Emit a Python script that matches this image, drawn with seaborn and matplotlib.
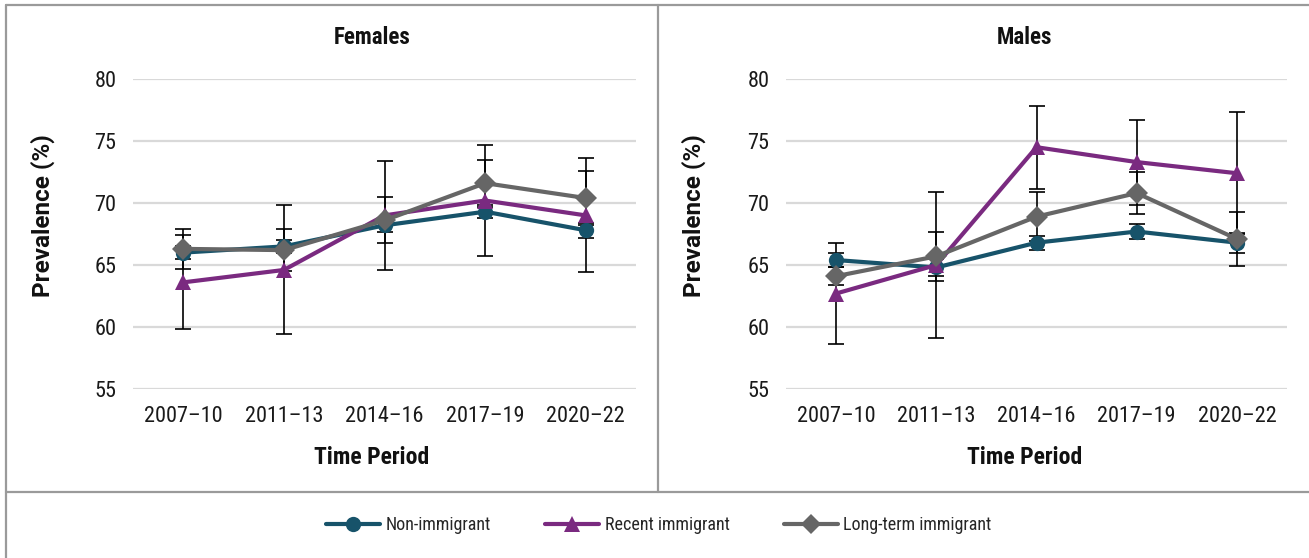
import matplotlib
matplotlib.use("Agg")
import matplotlib.pyplot as plt
from matplotlib.lines import Line2D
import numpy as np
import pandas as pd
import seaborn as sns

# ---- data -------------------------------------------------------------
periods = ["2007\u201310", "2011\u201313", "2014\u201316", "2017\u201319", "2020\u201322"]
groups = ["Non-immigrant", "Recent immigrant", "Long-term immigrant"]

female_non = [66.0, 66.5, 68.2, 69.3, 67.8]
female_recent = [63.6, 64.6, 69.0, 70.2, 69.0]
female_long = [66.3, 66.2, 68.6, 71.6, 70.4]

female_non_err = [0.5, 0.5, 0.5, 0.5, 0.6]
female_recent_err = [3.8, 5.2, 4.4, 4.45, 4.6]
female_long_err = [1.6, 1.7, 1.85, 1.9, 2.2]

male_non = [65.4, 64.8, 66.8, 67.7, 66.8]
male_recent = [62.7, 65.0, 74.5, 73.3, 72.4]
male_long = [64.1, 65.7, 68.9, 70.8, 67.1]

male_non_err = [0.6, 0.7, 0.55, 0.63, 0.8]
male_recent_err = [4.05, 5.85, 3.35, 3.43, 4.9]
male_long_err = [0.7, 1.95, 1.95, 1.7, 2.16]

y_ticks = [55, 60, 65, 70, 75, 80]

# ---- style ------------------------------------------------------------
sns.set_theme(style="white")
plt.rcParams["font.family"] = ["Roboto Condensed", "Liberation Sans Narrow", "Roboto", "DejaVu Sans"]

palette = {"Non-immigrant": "#17536a", "Recent immigrant": "#7a2a80", "Long-term immigrant": "#666666"}
markers = {"Non-immigrant": "o", "Recent immigrant": "^", "Long-term immigrant": "D"}
marker_sizes = {"Non-immigrant": 11, "Recent immigrant": 11, "Long-term immigrant": 10}


def long_frame(non, recent, long_):
    rows = []
    for g, vals in zip(groups, [non, recent, long_]):
        for p, v in zip(periods, vals):
            rows.append({"Time Period": p, "Group": g, "Prevalence": v})
    return pd.DataFrame(rows)


W, H = 1309, 558
fig = plt.figure(figsize=(W / 100, H / 100), dpi=100)
fig.patch.set_facecolor("white")


def px(x0, y0, w, h):
    return [x0 / W, 1 - (y0 + h) / H, w / W, h / H]


panels = [
    ("Females", px(133, 79, 503, 310), female_non, female_recent, female_long,
     [female_non_err, female_recent_err, female_long_err], 372, 43),
    ("Males", px(786, 79, 501, 310), male_non, male_recent, male_long,
     [male_non_err, male_recent_err, male_long_err], 1025, 694),
]

for title, rect, non, rec, lng, errs, cx, ylab_x in panels:
    ax = fig.add_axes(rect)
    df = long_frame(non, rec, lng)
    xpos = np.arange(len(periods))

    # error bars under the series
    for g, vals, err in zip(groups, [non, rec, lng], errs):
        ax.errorbar(xpos, vals, yerr=err, fmt="none", ecolor="black",
                    elinewidth=1.2, capsize=6, capthick=1.2, zorder=1.5)

    sns.lineplot(data=df, x="Time Period", y="Prevalence", hue="Group", style="Group",
                 hue_order=groups, style_order=groups, palette=palette,
                 markers=markers, dashes=False, linewidth=3.0, markersize=11,
                 markeredgewidth=0, sort=False, ax=ax, zorder=2, legend=True)

    ax.set_xlim(-0.5, len(periods) - 0.5)
    ax.set_ylim(55, 80)
    ax.set_yticks(y_ticks)
    ax.set_xticks(xpos)
    ax.set_xticklabels(periods)
    ax.tick_params(axis="both", length=0, labelsize=16, colors="#1a1a1a")
    ax.tick_params(axis="y", pad=12)
    ax.tick_params(axis="x", pad=12)
    ax.grid(axis="y", color="#d9d9d9", linewidth=1.6)
    ax.set_axisbelow(True)
    for s in ax.spines.values():
        s.set_visible(False)
    ax.set_xlabel("")
    ax.set_ylabel("")

    ax.get_legend().remove()

    fig.text(cx / W, 1 - 38 / H, title, ha="center", va="center",
             fontsize=16.5, fontweight="bold", color="#111111")
    fig.text(cx / W, 1 - 457 / H, "Time Period", ha="center", va="center",
             fontsize=17, fontweight="bold", color="#111111")
    fig.text(ylab_x / W, 1 - 216 / H, "Prevalence (%)", ha="center", va="center",
             rotation=90, fontsize=17.5, fontweight="bold", color="#111111",
             family=["Roboto", "DejaVu Sans"])

# shared legend
leg_handles = [Line2D([0], [0], color=palette[g], marker=markers[g], linewidth=3.0,
                      markersize=marker_sizes[g], markeredgewidth=0) for g in groups]
fig.legend(leg_handles, groups, loc="center", bbox_to_anchor=(659 / W, 1 - 525 / H),
           ncol=3, frameon=False, fontsize=13, handlelength=3.0, columnspacing=3.0,
           handletextpad=0.3)

# chart frame and panel separators
frame_color = "#9a9a9a"
for (x0, y0, x1, y1) in [(6, 5, 1309, 5), (6, 5, 6, 558), (6, 491.5, 1309, 491.5),
                         (658.5, 5, 658.5, 491.5)]:
    fig.add_artist(Line2D([x0 / W, x1 / W], [1 - y0 / H, 1 - y1 / H],
                          color=frame_color, linewidth=1.6, transform=fig.transFigure))

fig.savefig("out.png", dpi=100, facecolor="white")
